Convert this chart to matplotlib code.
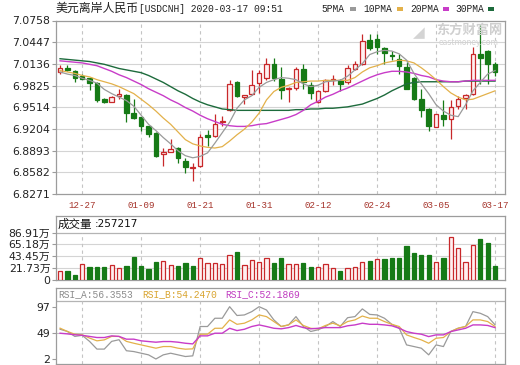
import matplotlib
matplotlib.use("Agg")
import matplotlib.pyplot as plt
from matplotlib.patches import Rectangle

plt.rcParams['font.family'] = ['DejaVu Sans', 'Noto Sans CJK SC']

# ---------------- data ----------------
x_tick_idx = [3, 11, 19, 27, 35, 43, 51, 59]
x_tick_labels = ['12-27', '01-09', '01-21', '01-31', '02-12', '02-24', '03-05', '03-17']
price_ticks = [6.8271, 6.8582, 6.8893, 6.9204, 6.9514, 6.9825, 7.0136, 7.0447, 7.0758]
price_labels = ['6.8271', '6.8582', '6.8893', '6.9204', '6.9514', '6.9825', '7.0136', '7.0447', '7.0758']

opens = [7.0019, 7.0082, 7.0034, 6.9968, 6.9933, 6.9862, 6.9629, 6.9590, 6.9682, 6.9686,
         6.9425, 6.9372, 6.9243, 6.9147, 6.8839, 6.8876, 6.8933, 6.8743, 6.8647, 6.8671,
         6.9115, 6.9100, 6.9300, 6.9472, 6.9872, 6.9662, 6.9700, 6.9868, 6.9939, 7.0139,
         6.9925, 6.9772, 6.9796, 7.0068, 6.9839, 6.9590, 6.9748, 6.9900, 6.9910, 6.9876,
         7.0067, 7.0139, 7.0472, 7.0496, 7.0368, 7.0268, 7.0210, 7.0091, 6.9939, 6.9629,
         6.9496, 6.9233, 6.9400, 6.9353, 6.9529, 6.9648, 6.9700, 7.0282, 7.0320, 7.0139]
highs = [7.0125, 7.0125, 7.0053, 6.9996, 6.9940, 6.9870, 6.9648, 6.9672, 6.9782, 6.9700,
         6.9639, 6.9380, 6.9250, 6.9155, 6.8933, 6.9057, 6.8940, 6.8781, 6.8710, 6.9124,
         6.9186, 6.9424, 6.9386, 6.9900, 6.9886, 6.9696, 7.0043, 7.0053, 7.0225, 7.0225,
         7.0091, 6.9805, 7.0091, 7.0129, 6.9872, 6.9758, 6.9924, 6.9972, 6.9915, 7.0115,
         7.0177, 7.0558, 7.0567, 7.0567, 7.0375, 7.0319, 7.0282, 7.0162, 6.9945, 6.9782,
         6.9510, 6.9424, 6.9615, 6.9615, 6.9672, 6.9700, 7.0377, 7.0687, 7.0339, 7.0162]
lows = [6.9996, 7.0034, 6.9876, 6.9919, 6.9768, 6.9590, 6.9582, 6.9585, 6.9639, 6.9296,
        6.9343, 6.9172, 6.9081, 6.8796, 6.8671, 6.8867, 6.8718, 6.8576, 6.8461, 6.8661,
        6.8958, 6.9091, 6.9243, 6.9462, 6.9662, 6.9558, 6.9686, 6.9719, 6.9910, 6.9890,
        6.9639, 6.9590, 6.9758, 6.9782, 6.9639, 6.9577, 6.9734, 6.9829, 6.9748, 6.9853,
        7.0043, 7.0125, 7.0339, 7.0282, 7.0139, 7.0196, 6.9996, 6.9772, 6.9615, 6.9376,
        6.9172, 6.9225, 6.9243, 6.9053, 6.9496, 6.9496, 6.9686, 6.9853, 6.9853, 6.9958]
closes = [7.0076, 7.0048, 6.9939, 6.9919, 6.9868, 6.9615, 6.9590, 6.9667, 6.9700, 6.9439,
          6.9354, 6.9243, 6.9124, 6.8813, 6.8876, 6.8914, 6.8781, 6.8661, 6.8661, 6.9091,
          6.9091, 6.9281, 6.9315, 6.9853, 6.9672, 6.9696, 6.9829, 7.0010, 7.0139, 6.9939,
          6.9767, 6.9791, 7.0068, 6.9872, 6.9719, 6.9748, 6.9900, 6.9924, 6.9853, 7.0076,
          7.0139, 7.0462, 7.0362, 7.0377, 7.0296, 7.0244, 7.0105, 6.9782, 6.9629, 6.9482,
          6.9243, 6.9415, 6.9339, 6.9519, 6.9639, 6.9686, 7.0272, 7.0225, 7.0139, 7.0019]

ma5 = [7.002, 6.999, 6.997, 6.993, 6.990, 6.986, 6.977, 6.971, 6.966, 6.961,
       6.953, 6.940, 6.927, 6.918, 6.908, 6.899, 6.889, 6.882, 6.879, 6.881,
       6.886, 6.900, 6.915, 6.930, 6.950, 6.962, 6.968, 6.980, 6.987, 6.991,
       6.994, 6.993, 6.991, 6.985, 6.981, 6.983, 6.988, 6.989, 6.990, 6.996,
       7.005, 7.014, 7.027, 7.031, 7.033, 7.032, 7.028, 7.019, 7.000, 6.985,
       6.971, 6.955, 6.946, 6.940, 6.938, 6.955, 6.975, 6.987, 6.999, 7.004]
ma10 = [7.004, 7.002, 7.000, 6.997, 6.995, 6.991, 6.988, 6.985, 6.981, 6.976,
        6.971, 6.963, 6.955, 6.946, 6.936, 6.927, 6.916, 6.905, 6.899, 6.896,
        6.894, 6.893, 6.895, 6.903, 6.912, 6.920, 6.930, 6.943, 6.962, 6.974,
        6.980, 6.983, 6.987, 6.988, 6.989, 6.989, 6.990, 6.990, 6.990, 6.990,
        6.994, 7.002, 7.008, 7.011, 7.015, 7.017, 7.019, 7.018, 7.015, 7.008,
        7.000, 6.991, 6.981, 6.972, 6.966, 6.962, 6.963, 6.967, 6.971, 6.975]
ma20 = [7.018, 7.017, 7.016, 7.015, 7.013, 7.011, 7.007, 7.003, 6.998, 6.994,
        6.989, 6.984, 6.978, 6.973, 6.968, 6.962, 6.957, 6.951, 6.946, 6.940,
        6.935, 6.931, 6.927, 6.925, 6.924, 6.924, 6.925, 6.927, 6.928, 6.931,
        6.934, 6.937, 6.941, 6.947, 6.955, 6.960, 6.966, 6.970, 6.975, 6.979,
        6.984, 6.989, 6.994, 6.998, 7.001, 7.003, 7.003, 7.002, 7.000, 6.997,
        6.995, 6.991, 6.989, 6.988, 6.988, 6.989, 6.990, 6.990, 6.990, 6.990]
ma30 = [7.021, 7.020, 7.019, 7.018, 7.017, 7.015, 7.013, 7.010, 7.007, 7.005,
        7.003, 7.001, 6.997, 6.992, 6.987, 6.981, 6.975, 6.970, 6.964, 6.959,
        6.955, 6.952, 6.949, 6.948, 6.947, 6.947, 6.947, 6.947, 6.947, 6.947,
        6.947, 6.947, 6.948, 6.948, 6.949, 6.949, 6.950, 6.950, 6.951, 6.952,
        6.954, 6.956, 6.960, 6.964, 6.969, 6.975, 6.980, 6.985, 6.987, 6.988,
        6.988, 6.988, 6.988, 6.988, 6.988, 6.989, 6.989, 6.989, 6.989, 6.989]

volumes = [160000, 160000, 80000, 285000, 230000, 230000, 230000, 260000, 205000, 250000,
           415000, 250000, 200000, 323000, 340000, 267000, 250000, 304000, 250000, 392000,
           304000, 304000, 295000, 453000, 515000, 267000, 354000, 317000, 392000, 298000,
           392000, 280000, 280000, 311000, 230000, 230000, 286000, 205000, 155000, 218000,
           236000, 317000, 341000, 373000, 379000, 392000, 397000, 621000, 490000, 453000,
           453000, 323000, 397000, 783000, 578000, 323000, 640000, 752000, 684000, 257217]
vol_up = [1, 0, 0, 1, 0, 0, 0, 1, 1, 0,
          0, 0, 0, 0, 1, 1, 0, 0, 0, 1,
          1, 1, 1, 1, 0, 1, 1, 1, 1, 0,
          0, 1, 1, 0, 0, 1, 1, 1, 0, 1,
          1, 1, 0, 1, 0, 0, 0, 0, 0, 0,
          0, 1, 0, 1, 1, 1, 1, 0, 0, 0]
vol_ticks = [0, 217300, 434500, 651800, 869100]
vol_labels = ['0', '21.73万', '43.45万', '65.18万', '86.91万']

rsi_a = [56, 52, 43, 45, 34, 20, 20, 34, 37, 17,
         15.5, 12.5, 9.5, 2, 9.5, 12.5, 9.5, 6.5, 7.7, 61,
         61, 76, 76, 97, 81, 82, 88, 97, 91, 73,
         61, 64, 79, 61, 52, 55, 61, 70, 61, 77,
         79, 93, 83, 82, 76, 65, 58, 27.6, 24.6, 21.6,
         9.5, 27.6, 24.6, 52, 58, 61, 88, 85, 79, 64]
rsi_b = [58, 52, 47, 46, 40, 35, 36.7, 43, 43, 34,
         30.6, 27.6, 24.6, 21.6, 24.6, 24.6, 21.6, 19.8, 20.4, 47,
         47, 57.8, 57.8, 73, 65, 67, 73, 82, 79, 70,
         61, 64, 73, 62.9, 57.8, 56.8, 62.9, 67, 62.3, 70,
         73, 80, 76, 76, 70, 65, 61, 45.8, 41, 36.7,
         30.6, 39.7, 41, 51.8, 57.8, 61, 73, 73, 70, 61]
rsi_c = [48.8, 47.6, 46, 45, 43, 41, 41, 44, 43, 38,
         38, 35, 33.7, 32.5, 33.7, 33.7, 32.5, 30.6, 29.4, 44,
         44, 48.8, 48.8, 57.8, 53.6, 56, 61, 63.9, 61, 57.8,
         56.8, 59, 62.9, 59, 56.8, 57.8, 59, 59, 59, 62.3,
         63.9, 67, 65, 65, 63.9, 62.3, 57.8, 51.8, 48.8, 47,
         42.7, 45.8, 45.8, 51.8, 54.8, 57.8, 63.9, 63.9, 62.9, 59]
rsi_ticks = [2, 49, 97]

# ---------------- styling ----------------
W, H = 520, 365
RED = '#c8282a'
RED_FILL = '#fff0f0'
GREEN = '#167a16'
C5, C10, C20, C30 = '#9a9a9a', '#e3b14a', '#c83cc8', '#1d6b3c'
GRID = '#d4d4d4'
VGRID = '#c4c4c4'
SPINE = '#9c9c9c'
XLAB = '#a5332a'
MONO = 'Liberation Mono'

fig = plt.figure(figsize=(W / 100, H / 100), dpi=100)
fig.patch.set_facecolor('white')


def rect(l, t, r, b):
    return [l / W, 1 - b / H, (r - l) / W, (b - t) / H]


def fx(x):
    return x / W


def fy(y):
    return 1 - y / H


XL = (-0.55, 60.35)
n = len(closes)
idx = list(range(n))


def style_axes(ax):
    for s in ax.spines.values():
        s.set_color(SPINE)
        s.set_linewidth(0.9)
    ax.set_xlim(*XL)
    ax.tick_params(axis='y', length=3, width=0.8, color=SPINE, pad=1, labelsize=7.8,
                   labelcolor='#222222')


# ---- main price panel ----
ax = fig.add_axes(rect(56, 20.5, 505, 194))
style_axes(ax)
ax.set_ylim(price_ticks[0], price_ticks[-1])
ax.set_yticks(price_ticks)
ax.set_yticklabels(price_labels)
for p in price_ticks[1:-1]:
    ax.axhline(p, color=GRID, lw=0.8, zorder=0)
for t in x_tick_idx:
    ax.axvline(t, color=VGRID, lw=0.8, ls=(0, (3, 3)), zorder=0)
ax.set_xticks(x_tick_idx)
ax.set_xticklabels(x_tick_labels, family=MONO, fontsize=6.6, color=XLAB)
ax.tick_params(axis='x', length=0, pad=5)

bw = 0.62
for i in idx:
    o, h, l, c = opens[i], highs[i], lows[i], closes[i]
    up = c >= o
    col = RED if up else GREEN
    ax.vlines(i, l, h, color=col, lw=0.9, zorder=2)
    bot = min(o, c)
    hgt = max(abs(c - o), 0.0005)
    ax.add_patch(Rectangle((i - bw / 2, bot), bw, hgt,
                           facecolor=RED_FILL if up else GREEN,
                           edgecolor=col, lw=0.9, zorder=3))

ax.plot(idx, ma30, color=C30, lw=1.0, zorder=4)
ax.plot(idx, ma20, color=C20, lw=1.0, zorder=4)
ax.plot(idx, ma10, color=C10, lw=0.9, zorder=4)
ax.plot(idx, ma5, color=C5, lw=0.9, zorder=4)

# watermark
fig.text(fx(469), fy(30), '东方财富网', fontsize=9.5, color='#cfcfcf', fontweight='bold',
         ha='center', va='center', family=['Noto Sans CJK SC'])
fig.text(fx(469), fy(42.5), 'eastmoney.com', fontsize=5.5, color='#d2d2d2',
         ha='center', va='center')
fig.text(fx(419), fy(33), '◢', fontsize=11, color='#d4d4d4', ha='center', va='center',
         family=['DejaVu Sans'])

# title row
fig.text(fx(55), fy(8), '美元离岸人民币', fontsize=8.6, color='#222222', va='center',
         family=['Noto Sans CJK SC'])
fig.text(fx(139), fy(8.5), '[USDCNH] 2020-03-17 09:51', fontsize=6.9, color='#222222',
         va='center', family=MONO)
legend = [('5PMA', 321.7, 350, C5), ('10PMA', 363, 396.5, C10),
          ('20PMA', 410, 442.5, C20), ('30PMA', 455, 488, C30)]
for txt, tx, rx, col in legend:
    fig.text(fx(tx), fy(8.5), txt, fontsize=6.9, color='#222222', va='center', family=MONO)
    fig.patches.append(Rectangle((fx(rx), fy(10.5)), 6 / W, 4 / H, transform=fig.transFigure,
                                 facecolor=col, edgecolor='none'))

# ---- volume panel ----
axv = fig.add_axes(rect(56, 216, 505, 279.5))
style_axes(axv)
vtop = vol_ticks[-1] * (279.5 - 216) / (279.5 - 232.7)
axv.set_ylim(0, vtop)
axv.set_yticks(vol_ticks)
axv.set_yticklabels(vol_labels)
axv.set_xticks([])
for v in vol_ticks[1:-1]:
    axv.axhline(v, color=GRID, lw=0.8, zorder=0)
axv.axhline(vol_ticks[-1], color='#b4b4b4', lw=0.9, zorder=0)
frac = vol_ticks[-1] / vtop
for t in x_tick_idx:
    axv.axvline(t, ymin=0, ymax=frac, color=VGRID, lw=0.8, ls=(0, (3, 3)), zorder=0)
for i in idx:
    up = vol_up[i] == 1
    axv.bar(i, volumes[i], width=0.58, bottom=0,
            facecolor=RED_FILL if up else GREEN,
            edgecolor=RED if up else GREEN, lw=0.9, zorder=3)
axv.text(0.004, (vtop + vol_ticks[-1]) / 2 / vtop, '成交量', transform=axv.transAxes,
         fontsize=8.3, va='center', ha='left', color='#111111', family=['Noto Sans CJK SC'])
axv.text(0.086, (vtop + vol_ticks[-1]) / 2 / vtop, ':' + str(volumes[-1]), transform=axv.transAxes,
         fontsize=7.6, va='center', ha='left', color='#111111')

# ---- RSI panel ----
axr = fig.add_axes(rect(56, 288.3, 505, 364))
style_axes(axr)
rlo, rhi = -7.1, 130.4
axr.set_ylim(rlo, rhi)
axr.set_yticks(rsi_ticks)
axr.set_yticklabels([str(t) for t in rsi_ticks])
axr.set_xticks([])
axr.axhline(49, color='#c0c0c0', lw=0.8, zorder=0)
sep = 107.9
axr.axhline(sep, color='#b4b4b4', lw=0.9, zorder=0)
rfrac = (sep - rlo) / (rhi - rlo)
for t in x_tick_idx:
    axr.axvline(t, ymin=0, ymax=rfrac, color=VGRID, lw=0.8, ls=(0, (3, 3)), zorder=0)
axr.plot(idx, rsi_a, color=C5, lw=0.9, zorder=3)
axr.plot(idx, rsi_b, color=C10, lw=0.9, zorder=3)
axr.plot(idx, rsi_c, color=C20, lw=1.0, zorder=3)
hy = (rhi + sep) / 2
axr.text(0.004, (hy - rlo) / (rhi - rlo), 'RSI_A:56.3553', transform=axr.transAxes,
         fontsize=6.9, family=MONO, color='#8c8c8c', va='center')
axr.text(0.191, (hy - rlo) / (rhi - rlo), 'RSI_B:54.2470', transform=axr.transAxes,
         fontsize=6.9, family=MONO, color='#d9a530', va='center')
axr.text(0.376, (hy - rlo) / (rhi - rlo), 'RSI_C:52.1869', transform=axr.transAxes,
         fontsize=6.9, family=MONO, color='#c03cc0', va='center')

fig.savefig('out.png', dpi=100, facecolor='white')
